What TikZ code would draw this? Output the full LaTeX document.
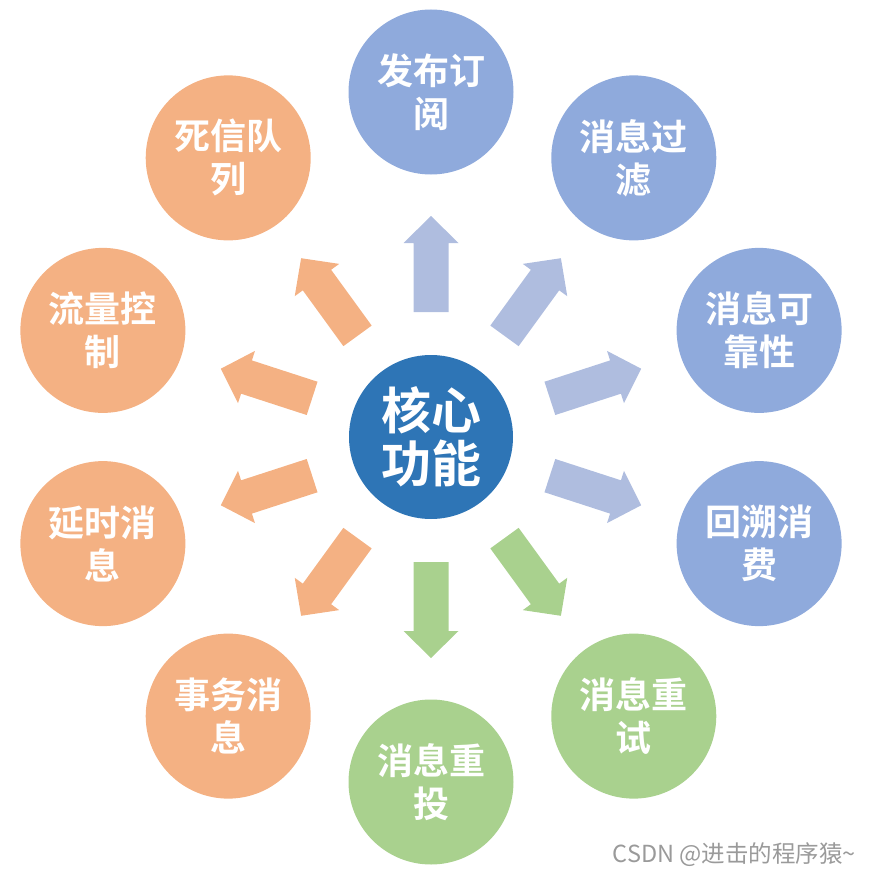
\documentclass[tikz,border=0pt]{standalone}
\usepackage{fontspec}
\usetikzlibrary{calc}
\newfontfamily\cjk{Noto Sans CJK SC}[BoldFont={Noto Sans CJK SC Bold}]
\definecolor{core}{HTML}{2E75B6}
\definecolor{blueC}{HTML}{8FAADC}
\definecolor{blueA}{HTML}{AFBDDF}
\definecolor{orangeC}{HTML}{F4B183}
\definecolor{greenC}{HTML}{A9D18E}
\definecolor{mark}{HTML}{9A9A9A}
\tikzset{
  x=1pt,y=1pt,
  outer/.style={circle,minimum size=165pt,inner sep=0pt,text=white,align=center,
    font=\cjk\bfseries\fontsize{36}{43}\selectfont},
  corecircle/.style={circle,minimum size=164pt,inner sep=0pt,fill=core,text=white,align=center,
    font=\cjk\bfseries\fontsize{50}{53}\selectfont},
}
\newcommand{\blockarrow}[2]{%
  \begin{scope}[shift={(c.center)},rotate=#1]
    \fill[#2] (125,-17.5) -- (194,-17.5) -- (194,-27.5) -- (221,0) -- (194,27.5) -- (194,17.5) -- (125,17.5) -- cycle;
  \end{scope}}
\begin{document}
\begin{tikzpicture}
\useasboundingbox (0,0) rectangle (879,-875);
\node[corecircle] (c) at (431,-437) {核心\\功能};
\node[outer,fill=blueC] (n1) at ($(c.center)+(90:345)$) {发布订\\阅};
\node[outer,fill=blueC] (n2) at ($(c.center)+(54:345)$) {消息过\\滤};
\node[outer,fill=blueC] (n3) at ($(c.center)+(18:345)$) {消息可\\靠性};
\node[outer,fill=blueC] (n4) at ($(c.center)+(-18:345)$) {回溯消\\费};
\node[outer,fill=greenC] (n5) at ($(c.center)+(-54:345)$) {消息重\\试};
\node[outer,fill=greenC] (n6) at ($(c.center)+(-90:345)$) {消息重\\投};
\node[outer,fill=orangeC] (n7) at ($(c.center)+(-126:345)$) {事务消\\息};
\node[outer,fill=orangeC] (n8) at ($(c.center)+(-162:345)$) {延时消\\息};
\node[outer,fill=orangeC] (n9) at ($(c.center)+(162:345)$) {流量控\\制};
\node[outer,fill=orangeC] (n10) at ($(c.center)+(126:345)$) {死信队\\列};
\blockarrow{90}{blueA}
\blockarrow{54}{blueA}
\blockarrow{18}{blueA}
\blockarrow{-18}{blueA}
\blockarrow{-54}{greenC}
\blockarrow{-90}{greenC}
\blockarrow{-126}{orangeC}
\blockarrow{-162}{orangeC}
\blockarrow{162}{orangeC}
\blockarrow{126}{orangeC}
\node[anchor=east,text=mark,font=\cjk\fontsize{23.5}{25}\selectfont,inner sep=0pt] (wm) at (856,-855) {CSDN @进击的程序猿\char`\~};
\end{tikzpicture}
\end{document}
